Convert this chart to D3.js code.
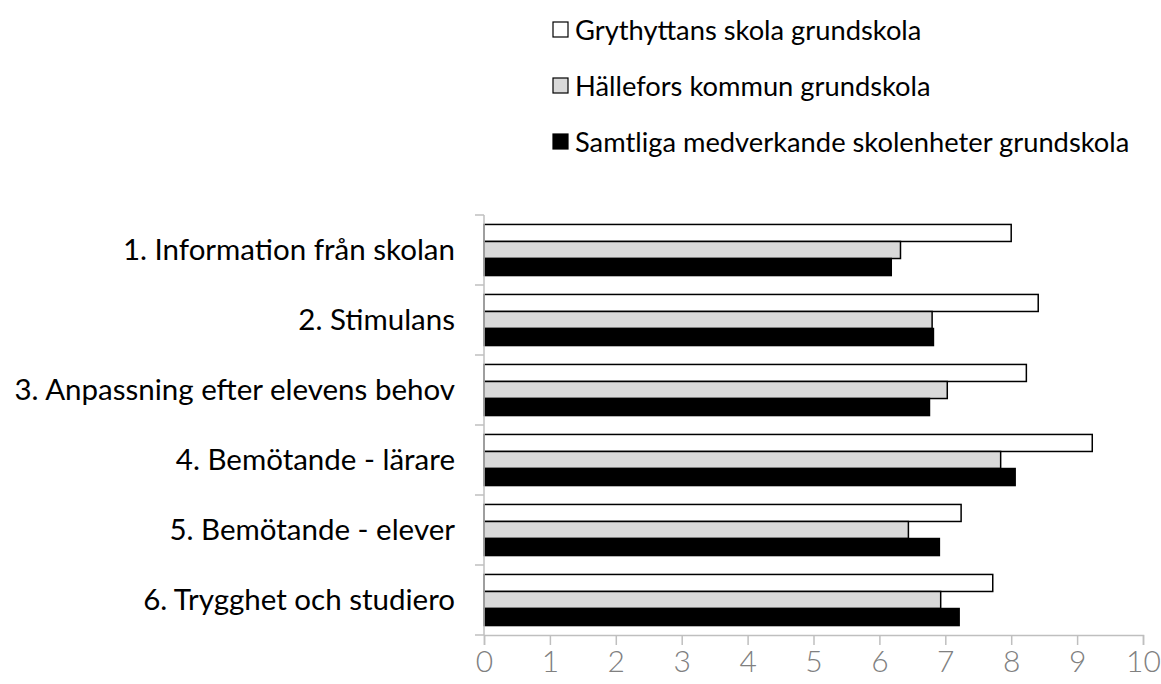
<!DOCTYPE html>
<html>
<head>
<meta charset="utf-8">
<script src="https://cdn.jsdelivr.net/npm/d3@7"></script>
<style>
body { margin: 0; background: #fff; }
svg { display: block; font-family: Lato, "Open Sans", sans-serif; }
</style>
</head>
<body>
<svg id="chart" width="1161" height="684"></svg>
<script>
var categories = [
	'1. Information från skolan',
	'2. Stimulans',
	'3. Anpassning efter elevens behov',
	'4. Bemötande - lärare',
	'5. Bemötande - elever',
	'6. Trygghet och studiero'
];
var seriesNames = [
	'Grythyttans skola grundskola',
	'Hällefors kommun grundskola',
	'Samtliga medverkande skolenheter grundskola'
];
var grythyttan = [8.0, 8.41, 8.23, 9.23, 7.24, 7.72];
var hallefors = [6.32, 6.80, 7.03, 7.84, 6.44, 6.93];
var samtliga = [6.18, 6.82, 6.76, 8.06, 6.91, 7.21];
var xTicks = [0, 1, 2, 3, 4, 5, 6, 7, 8, 9, 10];

var fills = ['#ffffff', '#d9d9d9', '#000000'];
var series = [grythyttan, hallefors, samtliga];

var svg = d3.select('#chart');

var x = d3.scaleLinear().domain([0, 10]).range([484, 1143]);
var y = d3.scaleBand().domain(categories).range([215, 635]).paddingInner(0.27).paddingOuter(0.135);
var ySub = d3.scaleBand().domain([0, 1, 2]).range([0, y.bandwidth()]);

// bars
var rows = [];
categories.forEach(function(c, i) {
	series.forEach(function(s, k) {
		rows.push({cat: c, k: k, v: s[i]});
	});
});

svg.append('g').selectAll('rect')
	.data(rows)
	.enter()
	.append('rect')
	.attr('x', x(0))
	.attr('y', function(d) { return y(d.cat) + ySub(d.k); })
	.attr('width', function(d) { return x(d.v) - x(0); })
	.attr('height', ySub.bandwidth())
	.attr('fill', function(d) { return fills[d.k]; })
	.attr('stroke', '#000')
	.attr('stroke-width', 1.5);

// x axis
var xAxis = svg.append('g')
	.attr('transform', 'translate(0,635)')
	.call(d3.axisBottom(x).tickValues(xTicks).tickSize(10).tickPadding(6).tickFormat(d3.format('d')));
xAxis.select('.domain').attr('stroke', '#bfbfbf').attr('stroke-width', 1.5);
xAxis.selectAll('.tick line').attr('stroke', '#bfbfbf').attr('stroke-width', 1.5);
xAxis.selectAll('.tick text')
	.attr('fill', '#808080')
	.style('font-size', '30px')
	.style('font-weight', '300')
	.style('font-family', 'Lato, sans-serif');

// y axis: ticks at band boundaries
var yBounds = categories.map(function(c) { return y(c) - y.step() * y.paddingInner() / 2; });
yBounds.push(635);
svg.append('line')
	.attr('x1', x(0)).attr('x2', x(0))
	.attr('y1', 215).attr('y2', 635)
	.attr('stroke', '#bfbfbf').attr('stroke-width', 1.5);
svg.append('g').selectAll('line')
	.data(yBounds)
	.enter()
	.append('line')
	.attr('x1', x(0) - 9).attr('x2', x(0))
	.attr('y1', function(d) { return d; })
	.attr('y2', function(d) { return d; })
	.attr('stroke', '#bfbfbf').attr('stroke-width', 1.5);

svg.append('g').selectAll('text')
	.data(categories)
	.enter()
	.append('text')
	.attr('x', 455)
	.attr('y', function(d) { return y(d) + y.bandwidth() / 2; })
	.attr('dy', '0.35em')
	.attr('text-anchor', 'end')
	.attr('fill', '#000')
	.style('font-size', '29.5px')
	.text(function(d) { return d; });

// legend
var legend = svg.append('g').selectAll('g')
	.data(seriesNames)
	.enter()
	.append('g')
	.attr('transform', function(d, i) { return 'translate(553,' + (30 + i * 56) + ')'; });
legend.append('rect')
	.attr('x', 0).attr('y', -8)
	.attr('width', 15).attr('height', 15)
	.attr('fill', function(d, i) { return fills[i]; })
	.attr('stroke', '#000')
	.attr('stroke-width', 1.2);
legend.append('text')
	.attr('x', 22)
	.attr('dy', '0.35em')
	.style('font-size', '27.3px')
	.attr('fill', '#000')
	.text(function(d) { return d; });
</script>
</body>
</html>
